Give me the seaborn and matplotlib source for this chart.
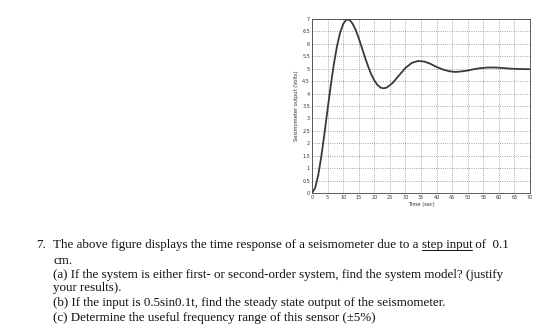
import numpy as np
import pandas as pd
import matplotlib
matplotlib.use("Agg")
import matplotlib.pyplot as plt
import seaborn as sns
from matplotlib.lines import Line2D

# ---- data ----
time_s = [0, 1, 2, 3, 4, 5, 6, 7, 8, 9, 10, 11, 12, 13, 14, 15, 16, 17, 18, 19, 20,
          21, 22, 23, 24, 26, 28, 30, 32, 34, 36, 38, 40, 42, 44, 46, 48, 50, 52,
          54, 56, 58, 60, 62, 64, 66, 68, 70]
output_v = [0.0, 0.2, 0.72, 1.48, 2.39, 3.36, 4.31, 5.17, 5.89, 6.44, 6.80, 6.97, 6.97,
            6.82, 6.57, 6.23, 5.85, 5.46, 5.10, 4.78, 4.53, 4.35, 4.24, 4.21, 4.24,
            4.44, 4.74, 5.03, 5.23, 5.31, 5.29, 5.20, 5.07, 4.97, 4.90, 4.87, 4.89,
            4.93, 4.98, 5.02, 5.045, 5.05, 5.04, 5.02, 5.00, 4.99, 4.985, 4.98]
x_ticks = list(range(0, 75, 5))
y_ticks = [0, 0.5, 1, 1.5, 2, 2.5, 3, 3.5, 4, 4.5, 5, 5.5, 6, 6.5, 7]
y_tick_labels = ["0", "0.5", "1", "1.5", "2", "2.5", "3", "3.5", "4", "4.5",
                 "5", "5.5", "6", "6.5", "7"]

df = pd.DataFrame({"Time (sec)": time_s, "Seismometer output (Volts)": output_v})

sns.set_style("white")
fig = plt.figure(figsize=(5.6, 3.36), dpi=100)
ax = fig.add_axes([312 / 560, 1 - 193 / 336, 218 / 560, 174 / 336])

sns.lineplot(data=df, x="Time (sec)", y="Seismometer output (Volts)", ax=ax,
             color="#3a3a3a", linewidth=1.3)
ax.set_xlim(0, 70)
ax.set_ylim(0, 7)
ax.set_xticks(x_ticks)
ax.set_xticklabels([str(v) for v in x_ticks])
ax.set_yticks(y_ticks)
ax.set_yticklabels(y_tick_labels)
ax.tick_params(labelsize=3.5, direction="in", length=2, width=0.5, pad=1.5,
               colors="#333333")
ax.grid(True, linestyle=":", color="#8a8a8a", linewidth=0.6)
for s in ax.spines.values():
    s.set_color("#444444")
    s.set_linewidth(0.6)
ax.set_xlabel("Time (sec)", fontsize=3.7, labelpad=1.5, color="#333333")
ax.set_ylabel("Seismometer output (Volts)", fontsize=3.7, labelpad=2, color="#333333")

# ---- question text ----
fs = 9.35
fam = ["Liberation Serif", "DejaVu Serif"]
renderer = fig.canvas.get_renderer()
W = fig.bbox.width

def put(x_px, y_px, s):
    return fig.text(x_px / 560, 1 - y_px / 336, s, fontsize=fs, family=fam,
                    va="baseline", ha="left", color="#111111")

x0 = 53
line_y = [248, 264, 278, 291, 306, 321]
put(36, line_y[0], "7.")
t1 = put(x0, line_y[0], "The above figure displays the time response of a seismometer due to a ")
bb = t1.get_window_extent(renderer)
t2 = fig.text(bb.x1 / W, 1 - line_y[0] / 336, "step input",
              fontsize=fs, family=fam, va="baseline", ha="left", color="#111111")
bb2 = t2.get_window_extent(renderer)
fig.add_artist(Line2D([bb2.x0 / W, bb2.x1 / W],
                      [1 - (line_y[0] + 2) / 336] * 2, color="#111111", linewidth=0.7))
fig.text(bb2.x1 / W, 1 - line_y[0] / 336, " of  0.1",
         fontsize=fs, family=fam, va="baseline", ha="left", color="#111111")
put(x0, line_y[1], "cm.")
put(x0, line_y[2], "(a) If the system is either first- or second-order system, find the system model? (justify")
put(x0, line_y[3], "your results).")
put(x0, line_y[4], "(b) If the input is 0.5sin0.1t, find the steady state output of the seismometer.")
put(x0, line_y[5], "(c) Determine the useful frequency range of this sensor (\u00b15%)")

fig.savefig("out.png", dpi=100)
